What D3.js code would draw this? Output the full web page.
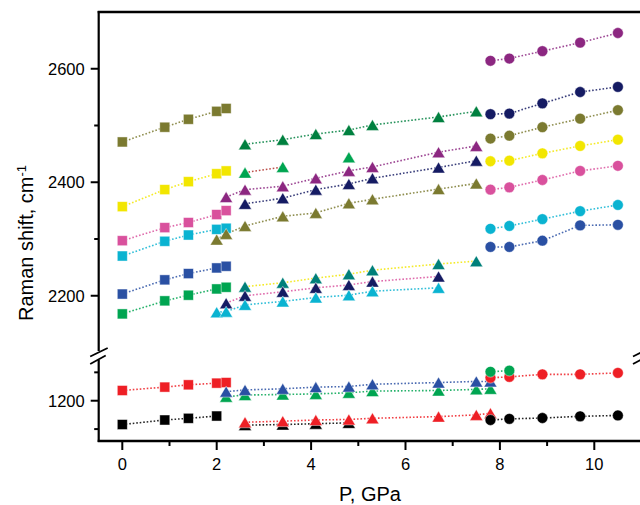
<!DOCTYPE html>
<html><head><meta charset="utf-8">
<script src="https://cdn.jsdelivr.net/npm/d3@7"></script>
<style>body{margin:0;background:#fff}svg{display:block}</style>
</head><body>
<svg id="c" width="640" height="505"></svg>
<script>
// ---------- data ----------
const P_sq = [0, 0.9, 1.4, 2.0, 2.2];
const P_sq4 = [0, 0.9, 1.4, 2.0];
const P_triA = [2.6, 3.4, 4.1, 4.8, 5.3, 6.7, 7.5];
const P_triB = [2.2, 2.6, 3.4, 4.1, 4.8, 5.3, 6.7, 7.5];
const P_triC = [2.0, 2.2, 2.6, 3.4, 4.1, 4.8, 5.3, 6.7, 7.5];
const P_triD = [2.2, 2.6, 3.4, 4.1, 4.8, 5.3, 6.7];
const P_triE = [2.0, 2.2, 2.6, 3.4, 4.1, 4.8, 5.3, 6.7];
const P_triF = [2.2, 2.6, 3.4, 4.1, 4.8, 5.3, 6.7, 7.5, 7.8];
const P_triG = [2.6, 3.4, 4.1, 4.8, 5.3, 6.7, 7.5, 7.8];
const P_triH = [2.6, 3.4, 4.1, 4.8];
const P_circ = [7.8, 8.2, 8.9, 9.7, 10.5];
const P_circ2 = [7.8, 8.2];

// upper panel (cm-1)
const sqOlive  = [2471, 2497, 2511, 2525, 2530];
const sqYellow = [2357, 2387, 2401, 2415, 2420];
const sqPink   = [2297, 2320, 2329, 2343, 2350];
const sqCyan   = [2270, 2296, 2307, 2317, 2319];
const sqBlue   = [2203, 2228, 2239, 2249, 2252];
const sqGreen  = [2168, 2191, 2201, 2212, 2215];

const triDkGreen = [2467, 2475, 2485, 2492, 2501, 2515, 2525];
const triGreen   = [2417, 2427];
const triGreenX  = [2444];
const triPurple  = [2374, 2387, 2393, 2407, 2420, 2427, 2453, 2464];
const triNavy    = [2362, 2372, 2387, 2397, 2407, 2426, 2438];
const triOlive   = [2299, 2309, 2323, 2340, 2346, 2363, 2370, 2388, 2398];
const triTeal    = [2216, 2223, 2231, 2238, 2245, 2256, 2261];
const triNavy2   = [2187, 2200, 2207, 2214, 2219, 2225, 2234];
const triCyan    = [2171, 2172, 2184, 2190, 2197, 2201, 2208, 2214];

const cPurple = [2614, 2618, 2631, 2646, 2663];
const cNavy   = [2520, 2521, 2539, 2559, 2568];
const cOlive  = [2477, 2482, 2497, 2512, 2527];
const cYellow = [2437, 2438, 2451, 2464, 2475];
const cPink   = [2387, 2391, 2404, 2420, 2429];
const cCyan   = [2318, 2323, 2335, 2349, 2360];
const cBlue   = [2286, 2286, 2297, 2324, 2325];

// lower panel (cm-1)
const sqRed   = [1218, 1224, 1228, 1231, 1232];
const sqBlack = [1158, 1166, 1169, 1173];
const triBlue  = [1216, 1219, 1221, 1224, 1225, 1229, 1232, 1234, 1234];
const triGreenL= [1207, 1210, 1211, 1212, 1214, 1217, 1218, 1220, 1221];
const triRed   = [1162, 1164, 1166, 1167, 1169, 1172, 1175, 1178];
const triBlack = [1157, 1158, 1159.5, 1161];
const cGreen = [1251, 1253];
const cRed   = [1240.5, 1242, 1246.5, 1246.5, 1249];
const cBlack = [1166, 1168, 1169.5, 1172.5, 1174];

const xTicks = [0, 2, 4, 6, 8, 10];
const xMinor = [1, 3, 5, 7, 9];
const yTicksUp = [2200, 2400, 2600];
const yMinorUp = [2300, 2500];
const yTicksLo = [1200];
const yMinorLo = [1150, 1250];

// colours
const C = {
  olive:"#7b7a30", yellow:"#f2e600", pink:"#d9519d", cyan:"#0ab3d1",
  blue:"#2a50a3", green:"#00a551", red:"#ee1f25", black:"#000000",
  dkgreen:"#00803f", purple:"#8c2781", navy:"#151b63", teal:"#00807a",
  brick:"#b0302a"
};

// series: panel, marker, P, values, fill, line colour
const series = [
  ["lo","tri",P_triH,triBlack,C.black,C.black],
  ["lo","tri",P_triG,triRed,C.red,C.red],
  ["lo","tri",P_triF,triGreenL,C.green,C.green],
  ["lo","tri",P_triF,triBlue,C.blue,C.blue],
  ["lo","sq",P_sq4,sqBlack,C.black,C.black],
  ["lo","sq",P_sq,sqRed,C.red,C.red],
  ["lo","circ",P_circ,cRed,C.red,C.red],
  ["lo","circ",P_circ2,cGreen,C.green,C.green],
  ["lo","circ",P_circ,cBlack,C.black,C.black],

  ["up","sq",P_sq,sqOlive,C.olive,C.olive],
  ["up","sq",P_sq,sqYellow,C.yellow,C.yellow],
  ["up","sq",P_sq,sqPink,C.pink,C.pink],
  ["up","sq",P_sq,sqCyan,C.cyan,C.cyan],
  ["up","sq",P_sq,sqBlue,C.blue,C.blue],
  ["up","sq",P_sq,sqGreen,C.green,C.green],
  ["up","tri",P_triA,triDkGreen,C.dkgreen,C.dkgreen],
  ["up","tri",[2.6,3.4],triGreen,C.green,C.brick],
  ["up","tri",[4.8],triGreenX,C.green,C.green],
  ["up","tri",P_triB,triPurple,C.purple,C.purple],
  ["up","tri",P_triA,triNavy,C.navy,C.navy],
  ["up","tri",P_triC,triOlive,C.olive,C.olive],
  ["up","tri",P_triA,triTeal,C.teal,C.yellow],
  ["up","tri",P_triD,triNavy2,C.navy,C.pink],
  ["up","tri",P_triE,triCyan,C.cyan,C.cyan],
  ["up","circ",P_circ,cPurple,C.purple,C.purple],
  ["up","circ",P_circ,cNavy,C.navy,C.navy],
  ["up","circ",P_circ,cOlive,C.olive,C.olive],
  ["up","circ",P_circ,cYellow,C.yellow,C.yellow],
  ["up","circ",P_circ,cPink,C.pink,C.pink],
  ["up","circ",P_circ,cCyan,C.cyan,C.cyan],
  ["up","circ",P_circ,cBlue,C.blue,C.blue]
].map(([panel,marker,p,v,fill,line]) => ({panel,marker,fill,line,pts:p.map((x,i)=>({x,y:v[i]}))}));

// ---------- layout ----------
const svg = d3.select("#c");
const FONT = "'Liberation Sans', Arial, sans-serif";
const x = d3.scaleLinear().domain([-0.5, 11]).range([98.7, 641.5]);
const yUp = d3.scaleLinear().domain([2100, 2700]).range([352.5, 12]);
const yLo = d3.scaleLinear().domain([1129, 1270]).range([441, 361]);
const yOf = {up:yUp, lo:yLo};
const X0 = x.range()[0], X1 = x.range()[1];
const yBottom = 441, yTop = 12;

const axisG = svg.append("g");
axisG.append("line").attr("x1",X0-1).attr("x2",X1+2).attr("y1",yTop).attr("y2",yTop)
  .attr("stroke","#000").attr("stroke-width",2.5);
axisG.append("line").attr("x1",X0-1).attr("x2",X1+2).attr("y1",yBottom).attr("y2",yBottom)
  .attr("stroke","#000").attr("stroke-width",2.5);
[X0, X1].forEach(ax => {
  axisG.append("line").attr("x1",ax).attr("x2",ax).attr("y1",yTop-1).attr("y2",351)
    .attr("stroke","#000").attr("stroke-width",2.2);
  axisG.append("line").attr("x1",ax).attr("x2",ax).attr("y1",360).attr("y2",yBottom+1)
    .attr("stroke","#000").attr("stroke-width",2.2);
  axisG.append("line").attr("x1",ax-8.5).attr("y1",356.5).attr("x2",ax+9).attr("y2",348)
    .attr("stroke","#000").attr("stroke-width",1.8);
  axisG.append("line").attr("x1",ax-8.5).attr("y1",364).attr("x2",ax+7).attr("y2",355.5)
    .attr("stroke","#000").attr("stroke-width",1.8);
});

xTicks.forEach(t => {
  axisG.append("line").attr("x1",x(t)).attr("x2",x(t)).attr("y1",yBottom).attr("y2",yBottom+9)
    .attr("stroke","#000").attr("stroke-width",2);
  axisG.append("text").attr("x",x(t)).attr("y",470).attr("text-anchor","middle")
    .attr("font-family",FONT).attr("font-size",16.5).text(t);
});
xMinor.forEach(t => {
  axisG.append("line").attr("x1",x(t)).attr("x2",x(t)).attr("y1",yBottom).attr("y2",yBottom+5)
    .attr("stroke","#000").attr("stroke-width",2);
});
function yt(scale, majors, minors){
  majors.forEach(t => {
    axisG.append("line").attr("x1",X0-8).attr("x2",X0).attr("y1",scale(t)).attr("y2",scale(t))
      .attr("stroke","#000").attr("stroke-width",2);
    axisG.append("text").attr("x",X0-14).attr("y",scale(t)).attr("dy","0.36em")
      .attr("text-anchor","end").attr("font-family",FONT).attr("font-size",16.5).text(t);
  });
  minors.forEach(t => {
    axisG.append("line").attr("x1",X0-4.5).attr("x2",X0).attr("y1",scale(t)).attr("y2",scale(t))
      .attr("stroke","#000").attr("stroke-width",2);
  });
}
yt(yUp, yTicksUp, yMinorUp);
yt(yLo, yTicksLo, yMinorLo);

svg.append("text").attr("x",370).attr("y",501).attr("text-anchor","middle")
  .attr("font-family",FONT).attr("font-size",20).text("P, GPa");
const yt2 = svg.append("text").attr("transform","translate(33,243) rotate(-90)")
  .attr("text-anchor","middle").attr("font-family",FONT).attr("font-size",20);
yt2.append("tspan").text("Raman shift, cm");
yt2.append("tspan").attr("dy","-0.55em").attr("font-size",13).text("-1");

// ---------- marks ----------
const line = sc => d3.line().x(d => x(d.x)).y(d => sc(d.y));
const lineG = svg.append("g");
const markG = svg.append("g");

series.forEach(s => {
  const sc = yOf[s.panel];
  if (s.pts.length > 1) {
    lineG.append("path").attr("d", line(sc)(s.pts)).attr("fill","none")
      .attr("stroke", s.line).attr("stroke-width",1.6).attr("stroke-dasharray","1.6 1.9")
      .attr("opacity",0.85);
  }
});

const tri = (w,h) => `M0,${-h/2}L${w/2},${h/2}L${-w/2},${h/2}Z`;
const order = {sq:0, tri:1, circ:2};
series.slice().sort((a,b)=>order[a.marker]-order[b.marker]).forEach(s => {
  const sc = yOf[s.panel];
  s.pts.forEach(d => {
    const cx = x(d.x), cy = sc(d.y);
    let el;
    if (s.marker === "sq") {
      el = markG.append("rect").attr("x",cx-5).attr("y",cy-5).attr("width",10).attr("height",10);
    } else if (s.marker === "circ") {
      el = markG.append("circle").attr("cx",cx).attr("cy",cy).attr("r",5.4);
    } else {
      el = markG.append("path").attr("transform",`translate(${cx},${cy})`).attr("d",tri(13,11));
    }
    el.attr("fill", s.fill).attr("stroke","#fff").attr("stroke-opacity",0.55).attr("stroke-width",0.8);
  });
});
</script>
</body></html>
